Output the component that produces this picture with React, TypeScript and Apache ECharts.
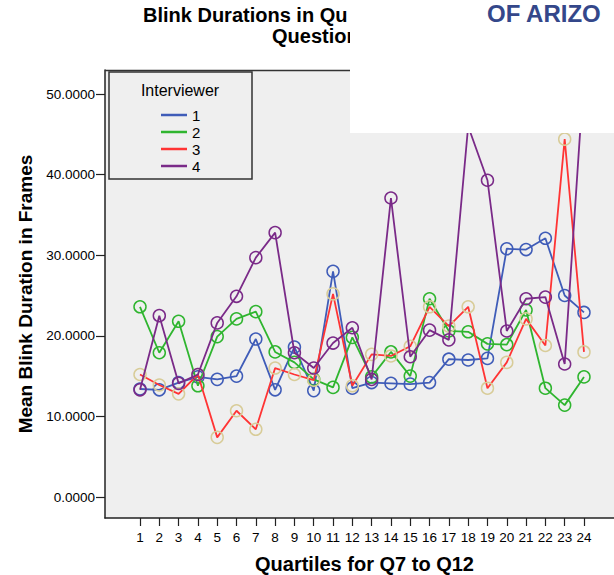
import React, { useEffect, useRef } from "react";
import * as echarts from "echarts";

const quartiles = [1, 2, 3, 4, 5, 6, 7, 8, 9, 10, 11, 12, 13, 14, 15, 16, 17, 18, 19, 20, 21, 22, 23, 24];
const interviewerNames = ["1", "2", "3", "4"];
const interviewer1 = [13.4, 13.3, 14.2, 14.9, 14.6, 15.0, 19.6, 13.3, 18.6, 13.2, 28.0, 13.5, 14.2, 14.1, 14.0, 14.2, 17.1, 17.0, 17.2, 30.8, 30.7, 32.1, 25.0, 22.9];
const interviewer2 = [23.6, 17.9, 21.8, 13.8, 19.9, 22.1, 23.0, 18.0, 16.7, 14.6, 13.6, 19.8, 14.9, 18.0, 15.0, 24.6, 20.6, 20.5, 19.0, 18.9, 23.2, 13.5, 11.4, 14.9];
const interviewer3 = [15.2, 13.9, 12.8, 15.2, 7.4, 10.7, 8.4, 16.0, 15.2, 14.5, 25.2, 13.8, 17.7, 17.5, 18.7, 23.6, 21.2, 23.6, 13.5, 16.7, 22.1, 18.8, 44.4, 18.0];
const interviewer4 = [13.3, 22.5, 14.1, 15.2, 21.6, 24.9, 29.7, 32.8, 17.9, 16.0, 19.1, 21.0, 14.6, 37.1, 17.4, 20.7, 19.5, 46.0, 39.3, 20.6, 24.6, 24.8, 16.5, 52.5];
const yTickValues = [0, 10, 20, 30, 40, 50];

const lineColors = ["#3f5cb8", "#2fb52f", "#ff3434", "#7a2a88"];
const markerColors = ["#3f5cb8", "#2fb52f", "#d8cc98", "#7a2a88"];
const FONT = "'Liberation Sans', Arial, sans-serif";

export default function App() {
  const ref = useRef<HTMLDivElement>(null);
  useEffect(() => {
    if (!ref.current) return;
    const chart = echarts.init(ref.current, null, { renderer: "svg" });
    const all = [interviewer1, interviewer2, interviewer3, interviewer4];
    const series = all.map((vals, i) => ({
      name: interviewerNames[i],
      type: "line",
      data: vals.map((v, k) => [quartiles[k], v]),
      symbol: "circle",
      symbolSize: 12,
      z: 2 + i,
      lineStyle: { color: lineColors[i], width: 1.8 },
      itemStyle: { color: "rgba(0,0,0,0)", borderColor: markerColors[i], borderWidth: 1.5 },
      emphasis: { disabled: true },
    }));
    chart.setOption({
      animation: false,
      backgroundColor: "#ffffff",
      textStyle: { fontFamily: FONT },
      grid: {
        left: 105,
        right: 0,
        top: 70,
        bottom: 57,
        show: true,
        backgroundColor: "#efefef",
        borderWidth: 0,
        containLabel: false,
        outerBoundsMode: "none",
      },
      legend: {
        orient: "vertical",
        left: 161,
        top: 107.5,
        padding: 0,
        z: 10,
        icon: "rect",
        itemWidth: 26,
        itemHeight: 2.5,
        itemGap: 2,
        selectedMode: false,
        textStyle: { fontSize: 15, lineHeight: 15, color: "#000", fontFamily: FONT },
        data: interviewerNames.map((n, i) => ({
          name: n,
          itemStyle: { color: lineColors[i], borderWidth: 0 },
        })),
      },
      xAxis: {
        type: "value",
        min: -0.813,
        max: 25.555,
        name: "Quartiles for Q7 to Q12",
        nameLocation: "middle",
        nameGap: 37,
        nameTextStyle: {
          fontSize: 20,
          lineHeight: 18,
          fontWeight: "bold",
          color: "#000",
          fontFamily: FONT,
          padding: [0, 0, 0, 10],
        },
        axisLine: { show: true, onZero: false, lineStyle: { color: "#222", width: 1.5 } },
        axisTick: { show: true, customValues: quartiles, length: 8, lineStyle: { color: "#222", width: 1.2 } },
        axisLabel: { customValues: quartiles, margin: 12, fontSize: 13.5, color: "#000", fontFamily: FONT },
        splitLine: { show: false },
      },
      yAxis: {
        type: "value",
        min: -2.605,
        max: 52.98,
        name: "Mean Blink Duration in Frames",
        nameLocation: "middle",
        nameGap: 68,
        nameRotate: 90,
        nameTextStyle: { fontSize: 19, fontWeight: "bold", color: "#000", fontFamily: FONT },
        axisLine: { show: true, onZero: false, lineStyle: { color: "#222", width: 1.5 } },
        axisTick: { show: true, customValues: yTickValues, length: 9, lineStyle: { color: "#222", width: 1.2 } },
        axisLabel: {
          customValues: yTickValues,
          margin: 10,
          fontSize: 13.5,
          color: "#000",
          fontFamily: FONT,
          formatter: (v: number) => v.toFixed(4),
        },
        splitLine: { show: false },
      },
      graphic: [
        {
          type: "line",
          z: 5,
          shape: { x1: 105, y1: 70.5, x2: 350, y2: 70.5 },
          style: { stroke: "#333", lineWidth: 1.5 },
        },
        {
          type: "rect",
          z: 3,
          shape: { x: 109, y: 72, width: 143, height: 107 },
          style: { fill: "#efefef", stroke: "#333", lineWidth: 1.5 },
        },
        {
          type: "text",
          z: 6,
          x: 180,
          y: 90,
          style: { text: "Interviewer", font: `16px ${FONT}`, fill: "#000", align: "center", verticalAlign: "middle" },
        },
        {
          type: "text",
          z: 40,
          x: 143,
          y: 15,
          style: { text: "Blink Durations in Qu", font: `bold 20px ${FONT}`, fill: "#000", align: "left", verticalAlign: "middle" },
        },
        {
          type: "text",
          z: 40,
          x: 272,
          y: 36,
          style: { text: "Question", font: `bold 20px ${FONT}`, fill: "#000", align: "left", verticalAlign: "middle" },
        },
        {
          type: "rect",
          z: 50,
          shape: { x: 350, y: 0, width: 264, height: 133 },
          style: { fill: "#ffffff" },
        },
        {
          type: "text",
          z: 51,
          x: 487,
          y: 13,
          style: {
            text: "OF ARIZO",
            font: `bold 24px ${FONT}`,
            lineHeight: 22,
            fill: "#34478a",
            align: "left",
            verticalAlign: "middle",
          },
        },
      ],
      series,
    });
    return () => chart.dispose();
  }, []);
  return <div ref={ref} style={{ position: "absolute", left: 0, top: 0, width: 614, height: 575 }} />;
}
